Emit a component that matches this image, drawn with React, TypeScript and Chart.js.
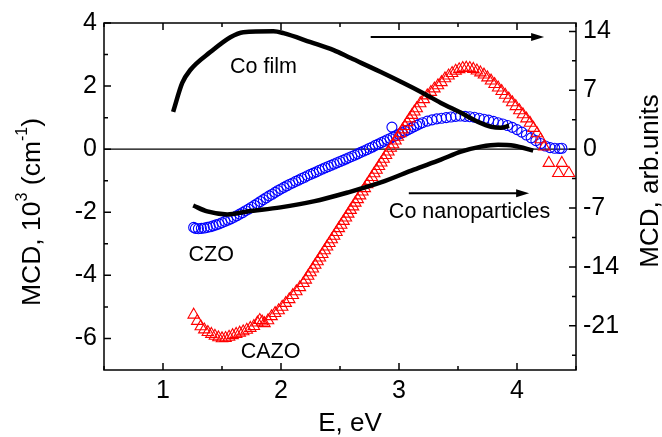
import React, { useEffect, useRef } from "react";
import { Chart, registerables } from "chart.js";

Chart.register(...registerables);

// ---------- axis ticks ----------
const X_TICKS = [1, 2, 3, 4];
const X_MINOR = [0.5, 1.5, 2.5, 3.5, 4.5];
const LEFT_TICKS = [-6, -4, -2, 0, 2, 4];
const LEFT_MINOR = [-5, -3, -1, 1, 3];
const RIGHT_TICKS = [-21, -14, -7, 0, 7, 14];
const RIGHT_MINOR = [-24.5, -17.5, -10.5, -3.5, 3.5, 10.5];

// ---------- CZO (blue circles, left axis) ----------
const CZO_E = [
  1.26, 1.275, 1.3, 1.325, 1.35, 1.375, 1.4, 1.425, 1.45, 1.475, 1.5, 1.525, 1.55, 1.575, 1.6, 1.625,
  1.65, 1.675, 1.7, 1.725, 1.75, 1.775, 1.8, 1.825, 1.85, 1.875, 1.9, 1.925, 1.95, 1.975, 2.0, 2.025,
  2.05, 2.075, 2.1, 2.125, 2.15, 2.175, 2.2, 2.225, 2.25, 2.275, 2.3, 2.325, 2.35, 2.375, 2.4, 2.425,
  2.45, 2.475, 2.5, 2.525, 2.55, 2.575, 2.6, 2.625, 2.65, 2.675, 2.7, 2.725, 2.75, 2.775, 2.8, 2.825,
  2.85, 2.875, 2.9, 2.925, 2.94, 2.95, 2.975, 3.0, 3.025, 3.05, 3.075, 3.1, 3.125, 3.15, 3.175, 3.2,
  3.24, 3.28, 3.32, 3.36, 3.4, 3.44, 3.48, 3.52, 3.56, 3.6, 3.64, 3.68, 3.72, 3.76, 3.8, 3.84, 3.88,
  3.92, 3.96, 4.0, 4.04, 4.08, 4.12, 4.16, 4.2, 4.24, 4.28, 4.32, 4.36, 4.38,
];
const CZO_V = [
  -2.48, -2.51, -2.52, -2.51, -2.5, -2.48, -2.46, -2.43, -2.4, -2.37, -2.33, -2.29, -2.25, -2.21, -2.16, -2.11,
  -2.06, -2.01, -1.95, -1.9, -1.84, -1.78, -1.72, -1.66, -1.6, -1.54, -1.48, -1.43, -1.37, -1.31, -1.26, -1.21,
  -1.16, -1.11, -1.07, -1.02, -0.98, -0.93, -0.89, -0.84, -0.8, -0.76, -0.72, -0.67, -0.63, -0.59, -0.55, -0.51,
  -0.47, -0.43, -0.39, -0.35, -0.31, -0.27, -0.23, -0.19, -0.15, -0.1, -0.06, -0.02, 0.03, 0.07, 0.12, 0.16,
  0.21, 0.25, 0.3, 0.34, 0.7, 0.39, 0.43, 0.48, 0.52, 0.57, 0.61, 0.66, 0.71, 0.76, 0.8, 0.84,
  0.89, 0.93, 0.96, 0.98, 1.0, 1.02, 1.04, 1.05, 1.04, 1.03, 1.01, 0.98, 0.95, 0.92, 0.88, 0.84, 0.8,
  0.75, 0.69, 0.62, 0.54, 0.45, 0.36, 0.27, 0.18, 0.1, 0.05, 0.03, 0.02, 0.03,
];

// ---------- CAZO (red triangles, left axis) ----------
const CAZO_E = [
  1.26, 1.29, 1.32, 1.35, 1.38, 1.41, 1.44, 1.47, 1.5, 1.53, 1.56, 1.59, 1.62, 1.65, 1.68, 1.71, 1.74,
  1.77, 1.8, 1.82, 1.84, 1.86, 1.89, 1.92, 1.95, 1.98, 2.01, 2.04, 2.07, 2.1, 2.13, 2.16, 2.19,
  2.21, 2.23, 2.25, 2.27, 2.29, 2.31, 2.33, 2.35, 2.37, 2.39, 2.41, 2.43, 2.45, 2.47, 2.49, 2.51,
  2.53, 2.55, 2.57, 2.59, 2.61, 2.63, 2.65, 2.67, 2.69, 2.71, 2.73, 2.75, 2.77, 2.79, 2.81, 2.83,
  2.85, 2.87, 2.89, 2.91, 2.93, 2.95, 2.97, 2.99, 3.01, 3.03, 3.05, 3.07, 3.09, 3.11, 3.13, 3.15,
  3.18, 3.21, 3.24, 3.27, 3.3, 3.33, 3.36, 3.39, 3.42, 3.45, 3.48, 3.51, 3.54, 3.57, 3.6, 3.63,
  3.66, 3.69, 3.72, 3.75, 3.78, 3.81, 3.84, 3.87, 3.9, 3.93, 3.96, 3.99, 4.02, 4.05, 4.08, 4.11,
  4.14, 4.17, 4.2, 4.23, 4.27, 4.35, 4.38, 4.44,
];
const CAZO_V = [
  -5.25, -5.45, -5.62, -5.72, -5.8, -5.86, -5.92, -5.97, -6.0, -5.99, -5.95, -5.9, -5.86, -5.82, -5.78, -5.73, -5.67,
  -5.61, -5.5, -5.42, -5.47, -5.52, -5.43, -5.3, -5.2, -5.11, -5.0, -4.88, -4.76, -4.63, -4.51, -4.38, -4.25,
  -4.14, -4.02, -3.91, -3.79, -3.67, -3.56, -3.44, -3.33, -3.21, -3.09, -2.98, -2.86, -2.75, -2.63, -2.51, -2.4,
  -2.28, -2.17, -2.05, -1.93, -1.82, -1.7, -1.59, -1.47, -1.35, -1.24, -1.12, -1.01, -0.89, -0.77, -0.66, -0.54,
  -0.43, -0.31, -0.19, -0.08, 0.04, 0.15, 0.27, 0.39, 0.5, 0.62, 0.73, 0.85, 0.97, 1.08, 1.19, 1.29,
  1.45, 1.58, 1.7, 1.81, 1.92, 2.02, 2.12, 2.24, 2.33, 2.41, 2.48, 2.53, 2.57, 2.58, 2.57, 2.54,
  2.49, 2.43, 2.36, 2.27, 2.17, 2.06, 1.95, 1.84, 1.72, 1.6, 1.48, 1.36, 1.23, 1.1, 0.97, 0.83,
  0.67, 0.5, 0.31, 0.08, -0.44, -0.76, -0.44, -0.76,
];

// ---------- Co film (black line, right axis) ----------
const FILM_E = [1.086, 1.163, 1.231, 1.401, 1.571, 1.681, 1.936, 2.021, 2.251, 2.446, 2.591, 2.846, 3.186, 3.355, 3.525, 3.67, 3.78, 3.865, 3.933];
const FILM_V = [4.44, 7.87, 9.41, 11.54, 13.31, 13.91, 14.02, 13.79, 12.72, 11.78, 10.83, 9.17, 6.8, 5.5, 4.32, 3.25, 2.66, 2.54, 2.78];

// ---------- Co nanoparticles (black line, right axis) ----------
const NANO_E = [1.256, 1.375, 1.545, 1.715, 1.996, 2.276, 2.565, 2.846, 3.126, 3.355, 3.525, 3.695, 3.84, 3.976, 4.137];
const NANO_V = [-6.69, -7.4, -7.75, -7.4, -6.92, -6.21, -5.15, -3.96, -2.43, -1.24, -0.3, 0.3, 0.53, 0.41, -0.18];

const FONT = '"Liberation Sans", Arial, Helvetica, sans-serif';

const toPts = (xs: number[], ys: number[]) => xs.map((x, i) => ({ x, y: ys[i] }));

const overlay = {
  id: "overlay",
  beforeDatasetsDraw(chart: any) {
    const { ctx, chartArea, scales } = chart;
    const y0 = scales.y.getPixelForValue(0);
    ctx.save();
    ctx.strokeStyle = "#000";
    ctx.lineWidth = 1.3;
    ctx.beginPath();
    ctx.moveTo(chartArea.left, y0);
    ctx.lineTo(chartArea.right, y0);
    ctx.stroke();
    ctx.restore();
  },
  afterDraw(chart: any) {
    const { ctx, chartArea, scales } = chart;
    const { left, right, top, bottom } = chartArea;
    const x = scales.x, y = scales.y, y2 = scales.y2;
    ctx.save();
    ctx.strokeStyle = "#000";
    ctx.fillStyle = "#000";
    ctx.lineWidth = 1.5;
    ctx.strokeRect(left, top, right - left, bottom - top);
    const MAJ = 7, MIN = 4;
    ctx.beginPath();
    const vt = (px: number, len: number) => {
      ctx.moveTo(px, bottom); ctx.lineTo(px, bottom - len);
      ctx.moveTo(px, top); ctx.lineTo(px, top + len);
    };
    X_TICKS.forEach((v) => vt(x.getPixelForValue(v), MAJ));
    X_MINOR.forEach((v) => vt(x.getPixelForValue(v), MIN));
    LEFT_TICKS.forEach((v) => { const p = y.getPixelForValue(v); ctx.moveTo(left, p); ctx.lineTo(left + MAJ, p); });
    LEFT_MINOR.forEach((v) => { const p = y.getPixelForValue(v); ctx.moveTo(left, p); ctx.lineTo(left + MIN, p); });
    RIGHT_TICKS.forEach((v) => { const p = y2.getPixelForValue(v); ctx.moveTo(right, p); ctx.lineTo(right - MAJ, p); });
    RIGHT_MINOR.forEach((v) => { const p = y2.getPixelForValue(v); ctx.moveTo(right, p); ctx.lineTo(right - MIN, p); });
    ctx.stroke();

    // annotations (data coordinates, left axis)
    ctx.font = `21.5px ${FONT}`;
    ctx.textBaseline = "middle";
    ctx.textAlign = "center";
    ctx.fillText("Co film", x.getPixelForValue(1.851), y.getPixelForValue(2.6));
    ctx.fillText("CZO", x.getPixelForValue(1.409), y.getPixelForValue(-3.37));
    ctx.fillText("CAZO", x.getPixelForValue(1.911), y.getPixelForValue(-6.44));
    ctx.textAlign = "left";
    ctx.fillText("Co nanoparticles", x.getPixelForValue(2.914), y.getPixelForValue(-2.0));

    const arrow = (e1: number, e2: number, v: number) => {
      const x1 = x.getPixelForValue(e1), x2 = x.getPixelForValue(e2), py = y.getPixelForValue(v);
      ctx.lineWidth = 2;
      ctx.beginPath();
      ctx.moveTo(x1, py);
      ctx.lineTo(x2 - 10, py);
      ctx.stroke();
      ctx.beginPath();
      ctx.moveTo(x2, py);
      ctx.lineTo(x2 - 13, py - 4);
      ctx.lineTo(x2 - 13, py + 4);
      ctx.closePath();
      ctx.fill();
    };
    arrow(2.76, 4.23, 3.56);
    arrow(3.083, 4.103, -1.4);

    // axis titles
    ctx.textAlign = "center";
    ctx.font = `26px ${FONT}`;
    ctx.fillText("E, eV", 350, 424);

    ctx.save();
    ctx.translate(651, 181);
    ctx.rotate(-Math.PI / 2);
    ctx.fillText("MCD, arb.units", 0, 0);
    ctx.restore();

    // left title with superscripts
    const parts: [string, boolean][] = [["MCD, 10", false], ["3", true], [" (cm", false], ["-1", true], [")", false]];
    const big = `26.5px ${FONT}`, small = `16px ${FONT}`;
    let total = 0;
    parts.forEach(([t, s]) => { ctx.font = s ? small : big; total += ctx.measureText(t).width; });
    ctx.save();
    ctx.translate(33, 212);
    ctx.rotate(-Math.PI / 2);
    ctx.textAlign = "left";
    let cx = -total / 2;
    parts.forEach(([t, s]) => {
      ctx.font = s ? small : big;
      ctx.fillText(t, cx, s ? -10 : 0);
      cx += ctx.measureText(t).width;
    });
    ctx.restore();
    ctx.restore();
  },
};

export default function App() {
  const ref = useRef<HTMLCanvasElement>(null);
  useEffect(() => {
    const tickFont = { family: FONT, size: 25 };
    const chart = new Chart(ref.current as HTMLCanvasElement, {
      type: "scatter",
      data: {
        datasets: [
          {
            label: "Co film",
            data: toPts(FILM_E, FILM_V),
            yAxisID: "y2",
            showLine: true,
            borderColor: "#000",
            borderWidth: 4.5,
            pointRadius: 0,
            cubicInterpolationMode: "monotone",
            order: 0,
          },
          {
            label: "Co nanoparticles",
            data: toPts(NANO_E, NANO_V),
            yAxisID: "y2",
            showLine: true,
            borderColor: "#000",
            borderWidth: 4.5,
            pointRadius: 0,
            cubicInterpolationMode: "monotone",
            order: 0,
          },
          {
            label: "CAZO",
            data: toPts(CAZO_E, CAZO_V),
            yAxisID: "y",
            pointStyle: "triangle",
            pointRadius: 6.6,
            borderColor: "rgb(255,0,0)",
            backgroundColor: "rgba(0,0,0,0)",
            borderWidth: 1.1,
            order: 1,
          },
          {
            label: "CZO",
            data: toPts(CZO_E, CZO_V),
            yAxisID: "y",
            pointStyle: "circle",
            pointRadius: 5,
            borderColor: "rgb(0,0,255)",
            backgroundColor: "rgba(0,0,0,0)",
            borderWidth: 1.1,
            order: 2,
          },
        ] as any,
      },
      options: {
        responsive: false,
        devicePixelRatio: 1,
        animation: false,
        layout: { padding: { top: 23, left: 0, right: 0, bottom: 0 } },
        plugins: { legend: { display: false }, tooltip: { enabled: false } },
        scales: {
          x: {
            type: "linear",
            min: 0.5,
            max: 4.5,
            afterBuildTicks: (s: any) => { s.ticks = X_TICKS.map((v) => ({ value: v })); },
            afterFit: (s: any) => { s.height = 67; },
            grid: { display: false, drawTicks: false },
            border: { display: false },
            ticks: { font: tickFont, color: "#000", padding: 6, maxRotation: 0, autoSkip: false, callback: (v: any) => String(v) },
          },
          y: {
            type: "linear",
            position: "left",
            min: -7,
            max: 4,
            afterBuildTicks: (s: any) => { s.ticks = LEFT_TICKS.map((v) => ({ value: v })); },
            afterFit: (s: any) => { s.width = 104; },
            grid: { display: false, drawTicks: false },
            border: { display: false },
            ticks: { font: tickFont, color: "#000", padding: 7, autoSkip: false, callback: (v: any) => String(v) },
          },
          y2: {
            type: "linear",
            position: "right",
            min: -26.25,
            max: 15,
            afterBuildTicks: (s: any) => { s.ticks = RIGHT_TICKS.map((v) => ({ value: v })); },
            afterFit: (s: any) => { s.width = 86; },
            grid: { display: false, drawTicks: false },
            border: { display: false },
            ticks: { font: tickFont, color: "#000", padding: 7, autoSkip: false, callback: (v: any) => String(v) },
          },
        },
      } as any,
      plugins: [overlay as any],
    });
    return () => chart.destroy();
  }, []);
  return (
    <div style={{ position: "absolute", left: 0, top: 0, width: 662, height: 437, background: "#fff" }}>
      <canvas ref={ref} width={662} height={437} style={{ width: 662, height: 437, display: "block" }} />
    </div>
  );
}
